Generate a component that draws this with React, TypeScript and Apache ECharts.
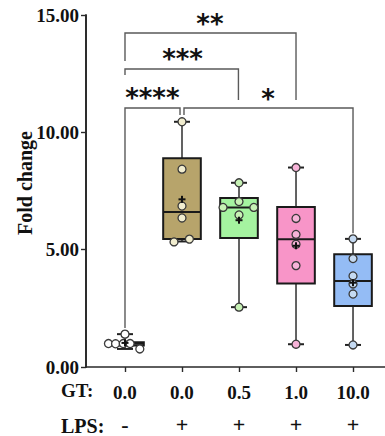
import React, { useEffect, useRef } from "react";
import * as echarts from "echarts";

// ---- data ----
const gtLabels = ["0.0", "0.0", "0.5", "1.0", "10.0"];
const lpsLabels = ["-", "+", "+", "+", "+"];
const yMin = 0;
const yMax = 15;
const yInterval = 5;

// box statistics per group: [min, Q1, median, Q3, max]
const boxStats = [
  [0.77, 0.92, 0.99, 1.05, 1.4],
  [5.35, 5.45, 6.6, 8.9, 10.45],
  [2.55, 5.5, 6.8, 7.2, 7.85],
  [0.97, 3.56, 5.44, 6.82, 8.5],
  [0.94, 2.6, 3.66, 4.8, 5.46],
];

// individual points per group
const pointsG1 = [1.4, 1.0, 0.99, 1.0, 1.0, 0.77];
const pointsG2 = [10.45, 8.43, 6.86, 6.35, 5.33, 5.45];
const pointsG3 = [7.85, 7.05, 6.8, 6.8, 6.48, 2.55];
const pointsG4 = [8.5, 6.33, 5.65, 5.23, 4.32, 0.97];
const pointsG5 = [5.46, 4.62, 3.88, 3.54, 3.11, 0.94];
// horizontal swarm offsets (in category units)
const swarmG1 = [0, -0.29, -0.165, -0.03, 0.09, 0.26];
const swarmG2 = [0, 0, 0, 0, -0.14, 0.13];
const swarmG3 = [0, 0, -0.28, 0.26, 0, 0];
const swarmG4 = [0, 0, 0, 0, 0, 0];
const swarmG5 = [0, 0, 0, 0, 0, 0];

// significance brackets (x in group positions 1..5)
const bracketLabels = ["****", "*", "***", "**"];
const bracketFrom = [1, 2.035, 1, 1];
const bracketTo = [1.965, 5, 2.99, 4];
const bracketLevel = [11.04, 11.04, 12.7, 14.23];
const bracketLeftEnd = [1.66, 10.74, 12.44, 13.04];
const bracketRightEnd = [10.74, 5.7, 11.38, 11.38];
const bracketTextX = [1.48, 3.51, 2.01, 2.49];
const bracketTextY = [11.7, 11.67, 13.38, 14.87];

// ---- styling ----
const boxColors = ["#ffffff", "#b7a46b", "#a5f3a0", "#f895c8", "#94bcf5"];
const pointColors = ["#ffffff", "#f1edcf", "#c7f2b5", "#f7b3d8", "#c5daf2"];
const serif = "'Liberation Serif', 'Times New Roman', serif";

export default function App() {
  const ref = useRef<HTMLDivElement>(null);

  useEffect(() => {
    document.body.style.margin = "0";
    if (!ref.current) return;
    const chart = echarts.init(ref.current, undefined, { renderer: "svg" });

    const groups = [pointsG1, pointsG2, pointsG3, pointsG4, pointsG5];
    const swarms = [swarmG1, swarmG2, swarmG3, swarmG4, swarmG5];
    const means = groups.map((g) => g.reduce((a, b) => a + b, 0) / g.length);
    const positions = groups.map((_, i) => i + 1);

    const scatterData: any[] = [];
    groups.forEach((g, i) => {
      g.forEach((v, k) => {
        scatterData.push({
          value: [positions[i] + swarms[i][k], v],
          itemStyle: { color: pointColors[i] },
        });
      });
    });

    const xMin = 0.316;
    const xMax = 5.561;
    const boxWidth = 0.66;
    const capHalf = 8;

    const option: any = {
      animation: false,
      grid: { left: 86, right: 0, top: 15, bottom: 69, outerBoundsMode: "none", containLabel: false },
      xAxis: [
        {
          type: "value",
          min: xMin,
          max: xMax,
          axisLine: { show: true, onZero: false, lineStyle: { color: "#2a2a2a", width: 1.6 } },
          axisTick: { show: true, length: 5, customValues: positions, lineStyle: { color: "#2a2a2a", width: 1.4 } },
          axisLabel: {
            customValues: positions,
            formatter: (v: number) => gtLabels[Math.round(v) - 1] ?? "",
            margin: 16,
            fontFamily: serif,
            fontWeight: "bold",
            fontSize: 19,
            color: "#111",
          },
          splitLine: { show: false },
        },
        {
          type: "value",
          min: xMin,
          max: xMax,
          position: "bottom",
          offset: 35,
          axisLine: { show: false, onZero: false },
          axisTick: { show: false },
          axisLabel: {
            customValues: positions,
            formatter: (v: number) => lpsLabels[Math.round(v) - 1] ?? "",
            margin: 11,
            fontFamily: serif,
            fontWeight: "bold",
            fontSize: 22,
            color: "#111",
          },
          splitLine: { show: false },
        },
      ],
      yAxis: {
        type: "value",
        position: "left",
        min: yMin,
        max: yMax,
        interval: yInterval,
        axisLine: { show: true, onZero: false, lineStyle: { color: "#2a2a2a", width: 1.6 } },
        axisTick: { show: true, length: 5, lineStyle: { color: "#2a2a2a", width: 1.4 } },
        axisLabel: {
          formatter: (v: number) => v.toFixed(2),
          margin: 7,
          fontFamily: serif,
          fontWeight: "bold",
          fontSize: 19,
          color: "#111",
        },
        splitLine: { show: false },
      },
      graphic: [
        {
          type: "text",
          x: 25,
          y: 183,
          rotation: Math.PI / 2,
          style: {
            text: "Fold change",
            font: `bold 20px ${serif}`,
            fill: "#111",
            align: "center",
            verticalAlign: "middle",
          },
        },
        {
          type: "text",
          x: 61,
          y: 390,
          style: { text: "GT:", font: `bold 19px ${serif}`, fill: "#111", verticalAlign: "middle" },
        },
        {
          type: "text",
          x: 61,
          y: 426,
          style: { text: "LPS:", font: `bold 20px ${serif}`, fill: "#111", verticalAlign: "middle" },
        },
      ],
      series: [
        {
          type: "custom",
          name: "yAxisLine",
          clip: false,
          data: [[xMin, yMin, yMax]],
          renderItem: (params: any, api: any) => {
            const a = api.coord([api.value(0), api.value(1)]);
            const b = api.coord([api.value(0), api.value(2)]);
            return {
              type: "line",
              shape: { x1: a[0], y1: a[1] + 0.8, x2: b[0], y2: b[1] - 0.5 },
              style: { stroke: "#2a2a2a", lineWidth: 1.8 },
            };
          },
          z: 1,
        },
        {
          type: "custom",
          name: "brackets",
          data: bracketLabels.map((_, k) => [
            bracketFrom[k],
            bracketTo[k],
            bracketLevel[k],
            bracketLeftEnd[k],
            bracketRightEnd[k],
            bracketTextX[k],
            bracketTextY[k],
            k,
          ]),
          renderItem: (params: any, api: any) => {
            const x0 = api.value(0), x1 = api.value(1), y = api.value(2);
            const e0 = api.value(3), e1 = api.value(4);
            const tx = api.value(5), ty = api.value(6), k = api.value(7);
            const a = api.coord([x0, e0]);
            const b = api.coord([x0, y]);
            const c = api.coord([x1, y]);
            const d = api.coord([x1, e1]);
            const t = api.coord([tx, ty]);
            return {
              type: "group",
              children: [
                {
                  type: "polyline",
                  shape: { points: [a, b, c, d] },
                  style: { stroke: "#5a5a5a", lineWidth: 1.4, fill: "none" },
                },
                {
                  type: "text",
                  x: t[0],
                  y: t[1] + 6,
                  style: {
                    text: bracketLabels[k],
                    font: "bold 26px 'DejaVu Sans', sans-serif",
                    fill: "#111",
                    align: "center",
                    verticalAlign: "middle",
                  },
                },
              ],
            };
          },
          z: 1,
        },
        {
          type: "custom",
          name: "boxes",
          data: boxStats.map((s, i) => [positions[i], ...s, i]),
          renderItem: (params: any, api: any) => {
            const px = api.value(0);
            const gi = api.value(6);
            const mn = api.coord([px, api.value(1)]);
            const q1 = api.coord([px, api.value(2)]);
            const md = api.coord([px, api.value(3)]);
            const q3 = api.coord([px, api.value(4)]);
            const mx = api.coord([px, api.value(5)]);
            const cx = md[0];
            const hw = api.size([boxWidth, 0])[0] / 2;
            const wh = { stroke: "#3c3c3c", lineWidth: 1.6 };
            const cap = { stroke: "#222", lineWidth: 2 };
            return {
              type: "group",
              children: [
                { type: "line", shape: { x1: cx, y1: q3[1], x2: cx, y2: mx[1] }, style: wh },
                { type: "line", shape: { x1: cx, y1: q1[1], x2: cx, y2: mn[1] }, style: wh },
                { type: "line", shape: { x1: cx - capHalf, y1: mx[1], x2: cx + capHalf, y2: mx[1] }, style: cap },
                { type: "line", shape: { x1: cx - capHalf, y1: mn[1], x2: cx + capHalf, y2: mn[1] }, style: cap },
                {
                  type: "rect",
                  shape: { x: cx - hw, y: q3[1], width: hw * 2, height: q1[1] - q3[1] },
                  style: { fill: boxColors[gi], stroke: "#1a1a1a", lineWidth: 2 },
                },
                { type: "line", shape: { x1: cx - hw, y1: md[1], x2: cx + hw, y2: md[1] }, style: { stroke: "#1a1a1a", lineWidth: 2 } },
              ],
            };
          },
          z: 2,
        },
        {
          type: "scatter",
          name: "points",
          data: scatterData,
          symbol: "circle",
          symbolSize: 8,
          itemStyle: { borderColor: "#3a3a3a", borderWidth: 1.3, opacity: 1 },
          z: 3,
        },
        {
          type: "custom",
          name: "means",
          data: means.map((m, i) => [positions[i], m]),
          renderItem: (params: any, api: any) => {
            const p = api.coord([api.value(0), api.value(1)]);
            const s = 3.5;
            const st = { stroke: "#111", lineWidth: 2 };
            return {
              type: "group",
              children: [
                { type: "line", shape: { x1: p[0] - s, y1: p[1], x2: p[0] + s, y2: p[1] }, style: st },
                { type: "line", shape: { x1: p[0], y1: p[1] - s, x2: p[0], y2: p[1] + s }, style: st },
              ],
            };
          },
          z: 4,
        },
      ],
    };

    chart.setOption(option);
    return () => chart.dispose();
  }, []);

  return <div ref={ref} style={{ width: 385, height: 436 }} />;
}
